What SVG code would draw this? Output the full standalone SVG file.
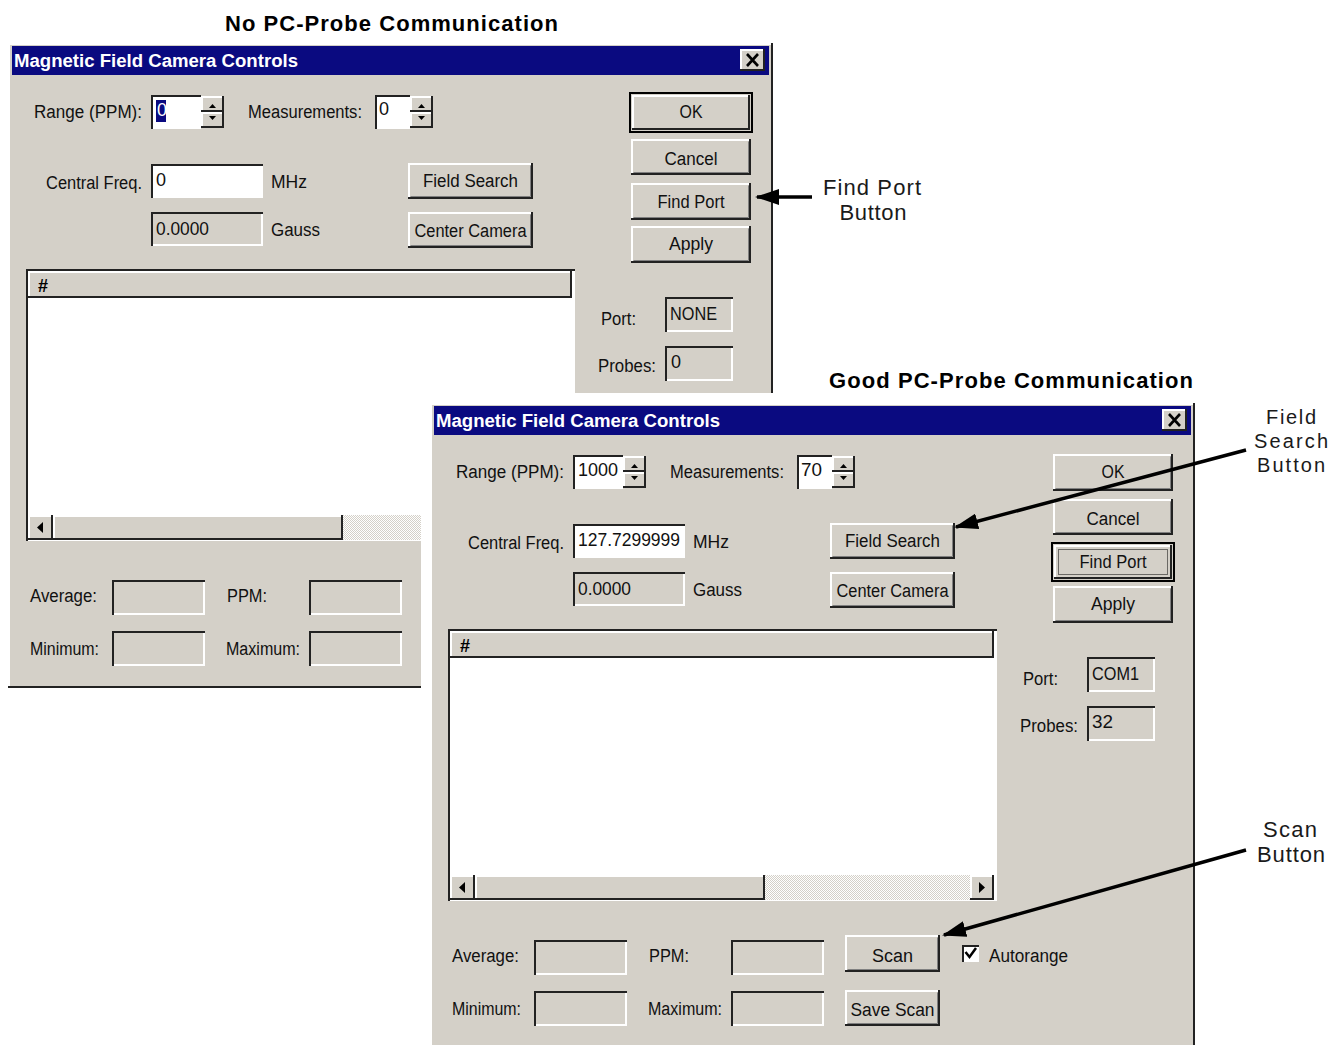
<svg xmlns="http://www.w3.org/2000/svg" width="1343" height="1045" viewBox="0 0 1343 1045">
<defs>
<style>
text{font-family:"Liberation Sans",Arial,Helvetica,sans-serif}
.t{font-size:18px;fill:#111}
.v{font-size:18px;fill:#111}
.c{text-anchor:middle}
.ttl{font-size:18px;font-weight:bold;fill:#fff}
.hd{font-size:22px;font-weight:bold;fill:#000}
.ann{font-size:22px;fill:#1a1a1a;text-anchor:middle}
.face{fill:#d4d0c8}
.wh{fill:#fff}
.hl{fill:none;stroke:#fff;stroke-width:2}
.dk{fill:none;stroke:#222;stroke-width:2}
.md{fill:none;stroke:#808080;stroke-width:1}
.tri{fill:#000}
.conn{stroke:#000;stroke-width:3.5;fill:none;marker-end:url(#ah)}
</style>
<pattern id="hatch" width="2" height="2" patternUnits="userSpaceOnUse">
<rect width="2" height="2" fill="#fff"/><rect width="1" height="1" fill="#d4d0c8"/><rect x="1" y="1" width="1" height="1" fill="#d4d0c8"/>
</pattern>
<marker id="ah" viewBox="0 0 24 16" refX="22" refY="8" markerWidth="24" markerHeight="16" markerUnits="userSpaceOnUse" orient="auto">
<path d="M0,0L24,8L0,16z" fill="#000"/>
</marker>
</defs>
<rect width="1343" height="1045" fill="#fff"/>

<text id="heading1" class="hd" x="225" y="31" textLength="333" lengthAdjust="spacing">No PC-Probe Communication</text>

<!-- Window 1 -->
<g id="window1">
<rect class="face" x="8" y="43" width="765" height="645"/>
<path class="hl" d="M9,687V44H771"/>
<path class="dk" d="M8,687H772V43"/>
<rect x="12" y="46" width="757" height="29" fill="#0a0a80"/>
<text class="ttl" x="14" y="67" textLength="284" lengthAdjust="spacingAndGlyphs">Magnetic Field Camera Controls</text>
<rect class="face" x="740" y="49" width="25" height="22"/><path class="hl" d="M741,70V50H764"/><path class="dk" d="M740,70H764V49"/>
<path d="M747,54L758,66M758,54L747,66" stroke="#000" stroke-width="2.6"/>

<text class="t" x="34" y="118" textLength="108" lengthAdjust="spacingAndGlyphs">Range (PPM):</text>
<rect class="wh" x="151" y="95" width="50" height="34"/><path class="dk" d="M152,129V96H201"/><path class="hl" d="M200,97V128H153"/>
<rect x="156" y="100" width="10" height="22" fill="#0a0a80"/><text class="v" x="157" y="116" style="fill:#fff">0</text>
<rect class="face" x="201" y="96" width="23" height="16"/><path class="hl" d="M202,111V97H223"/><path class="dk" d="M201,111H223V96"/>
<rect class="face" x="201" y="112" width="23" height="16"/><path class="hl" d="M202,127V113H223"/><path class="dk" d="M201,127H223V112"/>
<polygon class="tri" points="209,108 216,108 212.5,104"/><polygon class="tri" points="209,116 216,116 212.5,120"/>

<text class="t" x="248" y="118" textLength="114" lengthAdjust="spacingAndGlyphs">Measurements:</text>
<rect class="wh" x="375" y="95" width="35" height="34"/><path class="dk" d="M376,129V96H410"/><path class="hl" d="M409,97V128H377"/>
<text class="v" x="379" y="115">0</text>
<rect class="face" x="410" y="96" width="23" height="16"/><path class="hl" d="M411,111V97H432"/><path class="dk" d="M410,111H432V96"/>
<rect class="face" x="410" y="112" width="23" height="16"/><path class="hl" d="M411,127V113H432"/><path class="dk" d="M410,127H432V112"/>
<polygon class="tri" points="418,108 425,108 421.5,104"/><polygon class="tri" points="418,116 425,116 421.5,120"/>

<text class="t" x="46" y="189" textLength="96" lengthAdjust="spacingAndGlyphs">Central Freq.</text>
<rect class="wh" x="151" y="164" width="112" height="34"/><path class="dk" d="M152,198V165H263"/><path class="hl" d="M262,166V197H153"/>
<text class="v" x="156" y="186">0</text>
<text class="t" x="271" y="188" textLength="36" lengthAdjust="spacingAndGlyphs">MHz</text>
<rect class="face" x="151" y="212" width="112" height="34"/><path class="dk" d="M152,246V213H263"/><path class="hl" d="M262,214V245H153"/>
<text class="v" x="156" y="235" textLength="53" lengthAdjust="spacingAndGlyphs">0.0000</text>
<text class="t" x="271" y="236" textLength="49" lengthAdjust="spacingAndGlyphs">Gauss</text>

<rect class="face" x="408" y="163" width="125" height="36"/><path class="hl" d="M409,198V164H532"/><path class="dk" d="M408,198H532V163"/><path class="md" d="M410.5,196.5H530.5V165.5"/>
<text class="t c" x="470.5" y="187" textLength="95" lengthAdjust="spacingAndGlyphs">Field Search</text>
<rect class="face" x="408" y="212" width="125" height="36"/><path class="hl" d="M409,247V213H532"/><path class="dk" d="M408,247H532V212"/><path class="md" d="M410.5,245.5H530.5V214.5"/>
<text class="t c" x="470.5" y="237" textLength="112" lengthAdjust="spacingAndGlyphs">Center Camera</text>

<rect x="630" y="93" width="122" height="39" fill="none" stroke="#000" stroke-width="2"/>
<rect class="face" x="632" y="95" width="118" height="35"/><path class="hl" d="M633,129V96H749"/><path class="dk" d="M632,129H749V95"/>
<text class="t c" x="691" y="118" textLength="23" lengthAdjust="spacingAndGlyphs">OK</text>
<rect class="face" x="631" y="139" width="120" height="36"/><path class="hl" d="M632,174V140H750"/><path class="dk" d="M631,174H750V139"/><path class="md" d="M633.5,172.5H748.5V141.5"/>
<text class="t c" x="691" y="165" textLength="53" lengthAdjust="spacingAndGlyphs">Cancel</text>
<rect class="face" x="631" y="183" width="120" height="37"/><path class="hl" d="M632,219V184H750"/><path class="dk" d="M631,219H750V183"/><path class="md" d="M633.5,217.5H748.5V185.5"/>
<text class="t c" x="691" y="208" textLength="67" lengthAdjust="spacingAndGlyphs">Find Port</text>
<rect class="face" x="631" y="226" width="120" height="37"/><path class="hl" d="M632,262V227H750"/><path class="dk" d="M631,262H750V226"/><path class="md" d="M633.5,260.5H748.5V228.5"/>
<text class="t c" x="691" y="250" textLength="44" lengthAdjust="spacingAndGlyphs">Apply</text>

<rect class="wh" x="26" y="269" width="549" height="272"/><path class="dk" d="M27,541V270H575"/><path class="hl" d="M574,271V540H28"/>
<rect class="face" x="28" y="271" width="544" height="27"/><path class="hl" d="M29,297V272H571"/><path class="dk" d="M28,297H571V271"/>
<text x="38" y="292" style="font-size:18px;font-weight:bold">#</text>
<rect x="343" y="515" width="205" height="25" fill="url(#hatch)"/>
<rect class="face" x="28" y="515" width="25" height="25"/><path class="hl" d="M29,539V516H52"/><path class="dk" d="M28,539H52V515"/>
<polygon class="tri" points="43,522 43,533 37,527.5"/>
<rect class="face" x="53" y="515" width="290" height="25"/><path class="hl" d="M54,539V516H342"/><path class="dk" d="M53,539H342V515"/>
<rect class="face" x="548" y="515" width="24" height="25"/><path class="hl" d="M549,539V516H571"/><path class="dk" d="M548,539H571V515"/>
<polygon class="tri" points="557,522 557,533 563,527.5"/>

<text class="t" x="601" y="325" textLength="35" lengthAdjust="spacingAndGlyphs">Port:</text>
<rect class="face" x="665" y="297" width="68" height="35"/><path class="dk" d="M666,332V298H733"/><path class="hl" d="M732,299V331H667"/>
<text class="v" x="670" y="320" textLength="47" lengthAdjust="spacingAndGlyphs">NONE</text>
<text class="t" x="598" y="372" textLength="58" lengthAdjust="spacingAndGlyphs">Probes:</text>
<rect class="face" x="665" y="346" width="68" height="35"/><path class="dk" d="M666,381V347H733"/><path class="hl" d="M732,348V380H667"/>
<text class="v" x="671" y="368">0</text>

<text class="t" x="30" y="602" textLength="67" lengthAdjust="spacingAndGlyphs">Average:</text>
<rect class="face" x="112" y="580" width="93" height="35"/><path class="dk" d="M113,615V581H205"/><path class="hl" d="M204,582V614H114"/>
<text class="t" x="227" y="602" textLength="40" lengthAdjust="spacingAndGlyphs">PPM:</text>
<rect class="face" x="309" y="580" width="93" height="35"/><path class="dk" d="M310,615V581H402"/><path class="hl" d="M401,582V614H311"/>
<text class="t" x="30" y="655" textLength="69" lengthAdjust="spacingAndGlyphs">Minimum:</text>
<rect class="face" x="112" y="631" width="93" height="35"/><path class="dk" d="M113,666V632H205"/><path class="hl" d="M204,633V665H114"/>
<text class="t" x="226" y="655" textLength="74" lengthAdjust="spacingAndGlyphs">Maximum:</text>
<rect class="face" x="309" y="631" width="93" height="35"/><path class="dk" d="M310,666V632H402"/><path class="hl" d="M401,633V665H311"/>
</g>

<rect id="mask" x="421" y="393" width="922" height="652" fill="#fff"/>

<text id="heading2" class="hd" x="829" y="388" textLength="364" lengthAdjust="spacing">Good PC-Probe Communication</text>

<!-- Window 2 -->
<g id="window2" transform="translate(422,360)">
<rect class="face" x="8" y="43" width="765" height="700"/>
<path class="hl" d="M9,743V44H771"/>
<path class="dk" d="M772,743V43"/>
<rect x="12" y="46" width="757" height="29" fill="#0a0a80"/>
<text class="ttl" x="14" y="67" textLength="284" lengthAdjust="spacingAndGlyphs">Magnetic Field Camera Controls</text>
<rect class="face" x="740" y="49" width="25" height="22"/><path class="hl" d="M741,70V50H764"/><path class="dk" d="M740,70H764V49"/>
<path d="M747,54L758,66M758,54L747,66" stroke="#000" stroke-width="2.6"/>

<text class="t" x="34" y="118" textLength="108" lengthAdjust="spacingAndGlyphs">Range (PPM):</text>
<rect class="wh" x="151" y="95" width="50" height="34"/><path class="dk" d="M152,129V96H201"/><path class="hl" d="M200,97V128H153"/>
<text class="v" x="156" y="116" textLength="40" lengthAdjust="spacingAndGlyphs">1000</text>
<rect class="face" x="201" y="96" width="23" height="16"/><path class="hl" d="M202,111V97H223"/><path class="dk" d="M201,111H223V96"/>
<rect class="face" x="201" y="112" width="23" height="16"/><path class="hl" d="M202,127V113H223"/><path class="dk" d="M201,127H223V112"/>
<polygon class="tri" points="209,108 216,108 212.5,104"/><polygon class="tri" points="209,116 216,116 212.5,120"/>

<text class="t" x="248" y="118" textLength="114" lengthAdjust="spacingAndGlyphs">Measurements:</text>
<rect class="wh" x="375" y="95" width="35" height="34"/><path class="dk" d="M376,129V96H410"/><path class="hl" d="M409,97V128H377"/>
<text class="v" x="379" y="116" textLength="21" lengthAdjust="spacingAndGlyphs">70</text>
<rect class="face" x="410" y="96" width="23" height="16"/><path class="hl" d="M411,111V97H432"/><path class="dk" d="M410,111H432V96"/>
<rect class="face" x="410" y="112" width="23" height="16"/><path class="hl" d="M411,127V113H432"/><path class="dk" d="M410,127H432V112"/>
<polygon class="tri" points="418,108 425,108 421.5,104"/><polygon class="tri" points="418,116 425,116 421.5,120"/>

<text class="t" x="46" y="189" textLength="96" lengthAdjust="spacingAndGlyphs">Central Freq.</text>
<rect class="wh" x="151" y="164" width="112" height="34"/><path class="dk" d="M152,198V165H263"/><path class="hl" d="M262,166V197H153"/>
<text class="v" x="156" y="186" textLength="102" lengthAdjust="spacingAndGlyphs">127.7299999</text>
<text class="t" x="271" y="188" textLength="36" lengthAdjust="spacingAndGlyphs">MHz</text>
<rect class="face" x="151" y="212" width="112" height="34"/><path class="dk" d="M152,246V213H263"/><path class="hl" d="M262,214V245H153"/>
<text class="v" x="156" y="235" textLength="53" lengthAdjust="spacingAndGlyphs">0.0000</text>
<text class="t" x="271" y="236" textLength="49" lengthAdjust="spacingAndGlyphs">Gauss</text>

<rect class="face" x="408" y="163" width="125" height="36"/><path class="hl" d="M409,198V164H532"/><path class="dk" d="M408,198H532V163"/><path class="md" d="M410.5,196.5H530.5V165.5"/>
<text class="t c" x="470.5" y="187" textLength="95" lengthAdjust="spacingAndGlyphs">Field Search</text>
<rect class="face" x="408" y="212" width="125" height="36"/><path class="hl" d="M409,247V213H532"/><path class="dk" d="M408,247H532V212"/><path class="md" d="M410.5,245.5H530.5V214.5"/>
<text class="t c" x="470.5" y="237" textLength="112" lengthAdjust="spacingAndGlyphs">Center Camera</text>

<rect class="face" x="631" y="94" width="120" height="37"/><path class="hl" d="M632,130V95H750"/><path class="dk" d="M631,130H750V94"/><path class="md" d="M633.5,128.5H748.5V96.5"/>
<text class="t c" x="691" y="118" textLength="23" lengthAdjust="spacingAndGlyphs">OK</text>
<rect class="face" x="631" y="139" width="120" height="36"/><path class="hl" d="M632,174V140H750"/><path class="dk" d="M631,174H750V139"/><path class="md" d="M633.5,172.5H748.5V141.5"/>
<text class="t c" x="691" y="165" textLength="53" lengthAdjust="spacingAndGlyphs">Cancel</text>
<rect x="630" y="183" width="122" height="38" fill="none" stroke="#000" stroke-width="2"/>
<rect class="face" x="632" y="185" width="118" height="34"/><path class="hl" d="M633,218V186H749"/><path class="dk" d="M632,218H749V185"/>
<rect x="636.5" y="189.5" width="109" height="25" fill="none" stroke="#000" stroke-width="1" stroke-dasharray="1,1"/>
<text class="t c" x="691" y="208" textLength="67" lengthAdjust="spacingAndGlyphs">Find Port</text>
<rect class="face" x="631" y="226" width="120" height="37"/><path class="hl" d="M632,262V227H750"/><path class="dk" d="M631,262H750V226"/><path class="md" d="M633.5,260.5H748.5V228.5"/>
<text class="t c" x="691" y="250" textLength="44" lengthAdjust="spacingAndGlyphs">Apply</text>

<rect class="wh" x="26" y="269" width="549" height="272"/><path class="dk" d="M27,541V270H575"/><path class="hl" d="M574,271V540H28"/>
<rect class="face" x="28" y="271" width="544" height="27"/><path class="hl" d="M29,297V272H571"/><path class="dk" d="M28,297H571V271"/>
<text x="38" y="292" style="font-size:18px;font-weight:bold">#</text>
<rect x="343" y="515" width="205" height="25" fill="url(#hatch)"/>
<rect class="face" x="28" y="515" width="25" height="25"/><path class="hl" d="M29,539V516H52"/><path class="dk" d="M28,539H52V515"/>
<polygon class="tri" points="43,522 43,533 37,527.5"/>
<rect class="face" x="53" y="515" width="290" height="25"/><path class="hl" d="M54,539V516H342"/><path class="dk" d="M53,539H342V515"/>
<rect class="face" x="548" y="515" width="24" height="25"/><path class="hl" d="M549,539V516H571"/><path class="dk" d="M548,539H571V515"/>
<polygon class="tri" points="557,522 557,533 563,527.5"/>

<text class="t" x="601" y="325" textLength="35" lengthAdjust="spacingAndGlyphs">Port:</text>
<rect class="face" x="665" y="297" width="68" height="35"/><path class="dk" d="M666,332V298H733"/><path class="hl" d="M732,299V331H667"/>
<text class="v" x="670" y="320" textLength="47" lengthAdjust="spacingAndGlyphs">COM1</text>
<text class="t" x="598" y="372" textLength="58" lengthAdjust="spacingAndGlyphs">Probes:</text>
<rect class="face" x="665" y="346" width="68" height="35"/><path class="dk" d="M666,381V347H733"/><path class="hl" d="M732,348V380H667"/>
<text class="v" x="670" y="368" textLength="21" lengthAdjust="spacingAndGlyphs">32</text>

<text class="t" x="30" y="602" textLength="67" lengthAdjust="spacingAndGlyphs">Average:</text>
<rect class="face" x="112" y="580" width="93" height="35"/><path class="dk" d="M113,615V581H205"/><path class="hl" d="M204,582V614H114"/>
<text class="t" x="227" y="602" textLength="40" lengthAdjust="spacingAndGlyphs">PPM:</text>
<rect class="face" x="309" y="580" width="93" height="35"/><path class="dk" d="M310,615V581H402"/><path class="hl" d="M401,582V614H311"/>
<text class="t" x="30" y="655" textLength="69" lengthAdjust="spacingAndGlyphs">Minimum:</text>
<rect class="face" x="112" y="631" width="93" height="35"/><path class="dk" d="M113,666V632H205"/><path class="hl" d="M204,633V665H114"/>
<text class="t" x="226" y="655" textLength="74" lengthAdjust="spacingAndGlyphs">Maximum:</text>
<rect class="face" x="309" y="631" width="93" height="35"/><path class="dk" d="M310,666V632H402"/><path class="hl" d="M401,633V665H311"/>

<rect class="face" x="423" y="575" width="95" height="37"/><path class="hl" d="M424,611V576H517"/><path class="dk" d="M423,611H517V575"/><path class="md" d="M425.5,609.5H515.5V577.5"/>
<text class="t c" x="470.5" y="602" textLength="41" lengthAdjust="spacingAndGlyphs">Scan</text>
<rect class="face" x="423" y="630" width="95" height="36"/><path class="hl" d="M424,665V631H517"/><path class="dk" d="M423,665H517V630"/><path class="md" d="M425.5,663.5H515.5V632.5"/>
<text class="t c" x="470.5" y="656" textLength="84" lengthAdjust="spacingAndGlyphs">Save Scan</text>
<rect class="wh" x="540" y="585" width="17" height="17"/><path class="dk" d="M541,602V586H557"/><path class="hl" d="M556,587V601H542"/>
<path d="M543.5,592L547.5,597L554,588" fill="none" stroke="#000" stroke-width="2.5"/>
<text class="t" x="567" y="602" textLength="79" lengthAdjust="spacingAndGlyphs">Autorange</text>
</g>

<!-- Annotation labels -->
<g id="label-findport">
<text class="ann" x="872" y="195" textLength="98" lengthAdjust="spacing">Find Port</text>
<text class="ann" x="873" y="220" textLength="67" lengthAdjust="spacing">Button</text>
</g>
<g id="label-fieldsearch">
<text class="ann" x="1291" y="424" textLength="50" lengthAdjust="spacing" style="font-size:20px">Field</text>
<text class="ann" x="1291" y="448" textLength="74" lengthAdjust="spacing" style="font-size:20px">Search</text>
<text class="ann" x="1291" y="472" textLength="68" lengthAdjust="spacing" style="font-size:20px">Button</text>
</g>
<g id="label-scan">
<text class="ann" x="1290" y="837" textLength="54" lengthAdjust="spacing">Scan</text>
<text class="ann" x="1291" y="862" textLength="68" lengthAdjust="spacing">Button</text>
</g>

<g id="connectors">
<line class="conn" x1="812" y1="197" x2="757" y2="197"/>
<line class="conn" x1="1246" y1="450" x2="956" y2="527"/>
<line class="conn" x1="1246" y1="850" x2="944" y2="935"/>
</g>
</svg>
